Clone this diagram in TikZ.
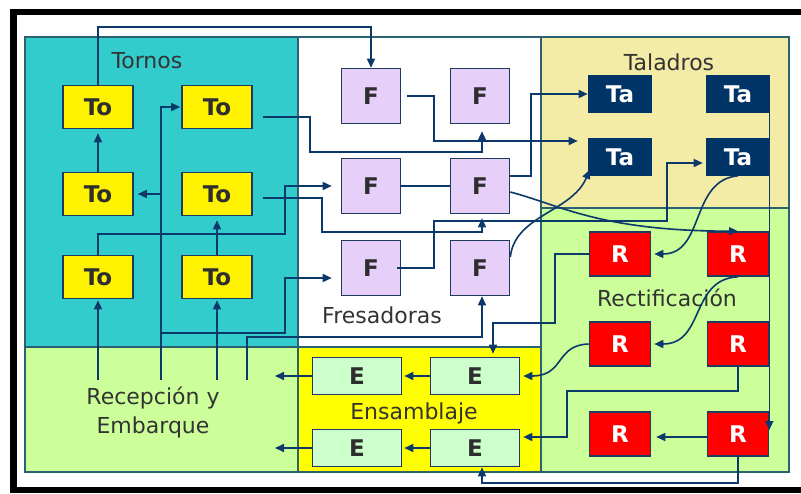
\documentclass[tikz,border=0pt]{standalone}
\usepackage{fontspec}
\setmainfont{DejaVu Sans}
\usetikzlibrary{arrows.meta}
\definecolor{tornoc}{HTML}{33CCCC}
\definecolor{taladc}{HTML}{F3EBA6}
\definecolor{greenc}{HTML}{CCFF99}
\definecolor{ensc}{HTML}{FFFF00}
\definecolor{regline}{HTML}{2A6272}
\definecolor{boxline}{HTML}{1F3A5F}
\definecolor{linec}{HTML}{0B3A6A}
\definecolor{lavc}{HTML}{E6D0FA}
\definecolor{tac}{HTML}{003366}
\definecolor{ec}{HTML}{CCFFCC}
\definecolor{txtdark}{HTML}{2E2E2E}
\definecolor{lbltxt}{HTML}{333333}
\tikzset{
  region/.style={draw=regline, line width=1.4pt},
  mbox/.style={draw=boxline, line width=1.6pt, inner sep=0pt, font=\fontsize{23}{23}\selectfont\bfseries},
  tobox/.style={mbox, fill=yellow, text=txtdark, minimum width=70pt, minimum height=43pt},
  fbox/.style={mbox, fill=lavc, text=txtdark, minimum width=59pt, minimum height=55pt},
  tabox/.style={mbox, draw=tac, fill=tac, text=white, minimum width=63pt, minimum height=36pt},
  rbox/.style={mbox, draw=boxline, fill=red, text=white, minimum width=61pt, minimum height=44pt},
  ebox/.style={mbox, fill=ec, text=txtdark, minimum width=89pt, minimum height=37pt},
  conn/.style={draw=linec, line width=1.6pt},
  arw/.style={conn, -{Triangle[length=9pt,width=8pt]}},
  lbl/.style={text=lbltxt, font=\fontsize{22}{29}\selectfont, inner sep=0pt, align=center},
}
\begin{document}
\begin{tikzpicture}[x=1pt,y=-1pt]
\useasboundingbox (0,0) rectangle (801,493);
\fill[white] (0,0) rectangle (801,493);
% black frame
\fill[black] (10,9) rectangle (801,15);
\fill[black] (10,9) rectangle (17,493);
\fill[black] (10,487) rectangle (801,493);
% regions
\path[region, fill=tornoc] (25,37) rectangle (298,347);
\path[region, fill=white] (298,37) rectangle (541,347);
\path[region, fill=taladc] (541,37) rectangle (789,208);
\path[region, fill=greenc] (541,208) rectangle (789,472);
\path[region, fill=greenc] (25,347) rectangle (298,472);
\path[region, fill=ensc] (298,347) rectangle (541,472);
% labels
\node[lbl] (lTornos) at (147,61) {Tornos};
\node[lbl] (lFres) at (382,315) {Fresadoras};
\node[lbl] (lTal) at (669,62) {Taladros};
\node[lbl] (lRect) at (667,298) {Rectificación};
\node[lbl] (lEns) at (414,413) {Ensamblaje};
\node[lbl] (lRec) at (153,412) {Recepción y\\Embarque};
% boxes
\node[tobox] (To1) at (98,107) {To};
\node[tobox] (To2) at (217,107) {To};
\node[tobox] (To3) at (98,194) {To};
\node[tobox] (To4) at (217,194) {To};
\node[tobox] (To5) at (98,277) {To};
\node[tobox] (To6) at (217,277) {To};
\node[fbox] (F1) at (371,96) {F};
\node[fbox] (F2) at (480,96) {F};
\node[fbox] (F3) at (371,186) {F};
\node[fbox] (F4) at (480,186) {F};
\node[fbox] (F5) at (371,268) {F};
\node[fbox] (F6) at (480,268) {F};
\node[tabox] (Ta1) at (620,94) {Ta};
\node[tabox] (Ta2) at (738,94) {Ta};
\node[tabox] (Ta3) at (620,157) {Ta};
\node[tabox] (Ta4) at (738,157) {Ta};
\node[rbox] (R1) at (620,254) {R};
\node[rbox] (R2) at (738,254) {R};
\node[rbox] (R3) at (620,344) {R};
\node[rbox] (R4) at (738,344) {R};
\node[rbox] (R5) at (620,434) {R};
\node[rbox] (R6) at (738,434) {R};
\node[ebox] (E1) at (357,376) {E};
\node[ebox] (E2) at (475,376) {E};
\node[ebox] (E3) at (357,448) {E};
\node[ebox] (E4) at (475,448) {E};
% free ends
\coordinate (s1) at (98,380);
\coordinate (s2) at (161,380);
\coordinate (s3) at (217,380);
\coordinate (s4) at (247,380);
\coordinate (o1) at (275,376);
\coordinate (o2) at (275,448);
% connectors: Tornos
\draw[arw] (To1.north) |- (371,27) -- (F1.north);
\draw[arw, shorten >=4pt] (To3.north) -- (To1.south);
\draw[arw, shorten >=4pt] (To6.north) -- (To4.south);
\draw[arw, shorten >=1pt] (s1) -- (To5.south);
\draw[arw, shorten >=1pt] (s3) -- (To6.south);
\draw[arw, shorten >=1pt] (s2) |- (To2.west);
\draw[arw, shorten >=4pt] (161,194) -- (To3.east);
\draw[arw, shorten >=9pt] (161,333) -| (285,278) -- ([yshift=-10pt]F5.west);
\draw[arw, shorten >=9pt] (To5.north) |- (285,234) |- (F3.west);
\draw[arw, shorten >=7pt] ([xshift=10pt,yshift=-10pt]To2.east) -| (310,152) -| ([xshift=2pt]F2.south);
\draw[arw, shorten >=4pt] ([xshift=10pt,yshift=-4pt]To4.east) -| (322,232) -| ([xshift=2pt]F4.south);
\draw[arw] (s4) |- (482,337) -- ([xshift=2pt]F6.south);
% Fresadoras
\draw[conn] (F3.east) -- (F4.west);
\draw[arw, shorten >=10pt] ([xshift=6pt]F1.east) -| (434,141) -- ([yshift=16pt]Ta3.west);
\draw[arw] ([yshift=10pt]F4.east) -| (531,94) -- (Ta1.west);
\draw[arw, shorten >=3pt] ([xshift=-4pt]F5.east) -| (434,221) -| (667,163) -- ([yshift=-6pt]Ta4.west);
\draw[arw] ([yshift=-6pt]F4.east) .. controls (560,205) and (600,231) .. (R2.north);
\draw[arw] ([yshift=11pt]F6.east) .. controls (515,215) and (572,212) .. ([xshift=2pt,yshift=6pt]Ta3.south west);
% Taladros / Rectificacion
\draw[arw, shorten >=3pt] (Ta4.south) .. controls (690,180) and (705,254) .. (R1.east);
\draw[arw] (R6.east |- Ta2.south) -- ([yshift=4pt]R6.east);
\draw[arw, shorten >=3pt] (R2.south) .. controls (690,279) and (705,344) .. (R3.east);
\draw[arw, shorten >=3pt] (R1.west) -| (555,323) -| ([xshift=18pt]E2.north);
\draw[arw, shorten >=3pt] (R3.west) .. controls (555,345) and (565,376) .. (E2.east);
\draw[arw, shorten >=3pt] (R4.south) |- (567,391) |- ([yshift=11pt]E4.east);
\draw[arw, shorten >=5pt] ([yshift=-3pt]R6.west) -- ([yshift=-3pt]R5.east);
\draw[arw] (R6.south) |- (482,483) -- ([xshift=7pt]E4.south);
% Ensamblaje
\draw[arw, shorten >=2pt] (E2.west) -- (E1.east);
\draw[arw, shorten >=2pt] (E4.west) -- (E3.east);
\draw[arw] (E1.west) -- (o1);
\draw[arw] (E3.west) -- (o2);
\end{tikzpicture}
\end{document}
